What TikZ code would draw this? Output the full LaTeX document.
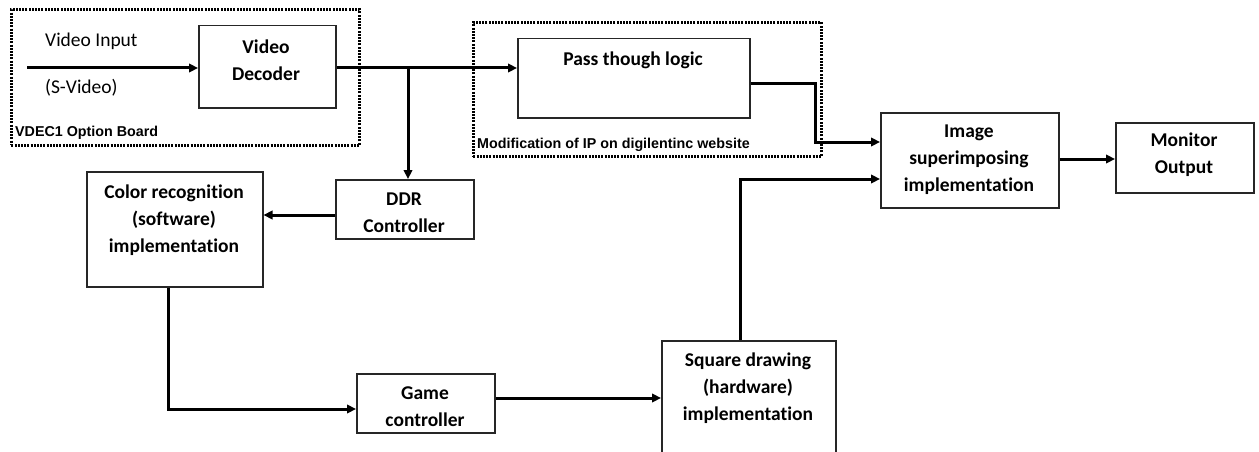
\documentclass[tikz,border=0pt]{standalone}
\usepackage{fontspec}
\setmainfont{Carlito}[Ligatures=NoCommon]
\newfontfamily\arialfont{Liberation Sans}
\usetikzlibrary{arrows.meta}
\tikzset{
  blk/.style={draw=black!85, line width=1.5pt, rectangle, inner sep=0pt, anchor=north west},
  grp/.style={draw=black, line width=2.8pt, dash pattern=on 2pt off 1.2pt, rectangle, inner sep=0pt, anchor=north west},
  lbl/.style={inner sep=0pt, align=center, font=\fontsize{19.5}{27}\selectfont\bfseries},
  plain/.style={inner sep=0pt, anchor=west, font=\fontsize{19.5}{22}\selectfont},
  grplbl/.style={inner sep=0pt, anchor=south west, font=\arialfont\fontsize{14.3}{16}\selectfont\bfseries},
  conn/.style={line width=3pt, -{Triangle[length=9pt,width=8.5pt]}},
}
\begin{document}
\begin{tikzpicture}[x=1pt,y=-1pt]
\useasboundingbox (0,0) rectangle (1259,452);
% group frames
\node[grp, minimum width=348pt, minimum height=136pt] (vdec) at (10,8) {};
\node[grp, minimum width=348pt, minimum height=134pt] (mod) at (472,21) {};
\node[grplbl] (vdeclbl) at (15,140) {VDEC1 Option Board};
\node[grplbl] (modlbl) at (477,152) {Modification of IP on digilentinc website};
% boxes
\node[blk, minimum width=137pt, minimum height=82pt] (dec) at (198,25) {};
\node[blk, minimum width=232pt, minimum height=79pt] (pass) at (517,38) {};
\node[blk, minimum width=178pt, minimum height=95pt] (img) at (880,112) {};
\node[blk, minimum width=138pt, minimum height=70pt] (mon) at (1115,122) {};
\node[blk, minimum width=176pt, minimum height=115pt] (col) at (86,171) {};
\node[blk, minimum width=138pt, minimum height=59pt] (ddr) at (335,179) {};
\node[blk, minimum width=138pt, minimum height=59pt] (game) at (356,373) {};
\node[blk, minimum width=174pt, minimum height=130pt] (sq) at (661,340) {};
% texts
\node[lbl] (dect) at (266,60) {Video\\Decoder};
\node[lbl] (passt) at (633,60) {Pass though logic};
\node[lbl] (imgt) at (969,160) {Image\\superimposing\\implementation};
\node[lbl] (mont) at (1184,155) {Monitor\\Output};
\node[lbl] (colt) at (174,220) {Color recognition\\(software)\\implementation};
\node[lbl] (ddrt) at (404,212.5) {DDR\\Controller};
\node[lbl] (gamet) at (425,406.5) {Game\\controller};
\node[lbl] (sqt) at (748,388) {Square drawing\\(hardware)\\implementation};
\node[plain] (vint) at (45,41) {Video Input};
\node[plain] (svid) at (45,88) {(S-Video)};
% connectors
\coordinate (vin) at (27,68);
\coordinate (br) at (408,68);
\draw[conn] (vin) -- (vin -| dec.west);
\draw[conn] (dec.east |- vin) -- (vin -| pass.west);
\draw[conn] (br) -- (br |- ddr.north);
\coordinate (p1) at (815,84);
\coordinate (p2) at (815,142);
\draw[conn] (pass.east |- p1) -- (p1) -- (p2) -- (p2 -| img.west);
\coordinate (s1) at (740,179);
\draw[conn] (s1 |- sq.north) -- (s1) -- (s1 -| img.west);
\coordinate (m1) at (0,159);
\draw[conn] (img.east |- m1) -- (mon.west |- m1);
\coordinate (d1) at (0,215);
\draw[conn] (ddr.west |- d1) -- (col.east |- d1);
\coordinate (c1) at (168,409);
\draw[conn] (c1 |- col.south) -- (c1) -- (c1 -| game.west);
\coordinate (g1) at (0,398);
\draw[conn] (game.east |- g1) -- (sq.west |- g1);
\end{tikzpicture}
\end{document}
